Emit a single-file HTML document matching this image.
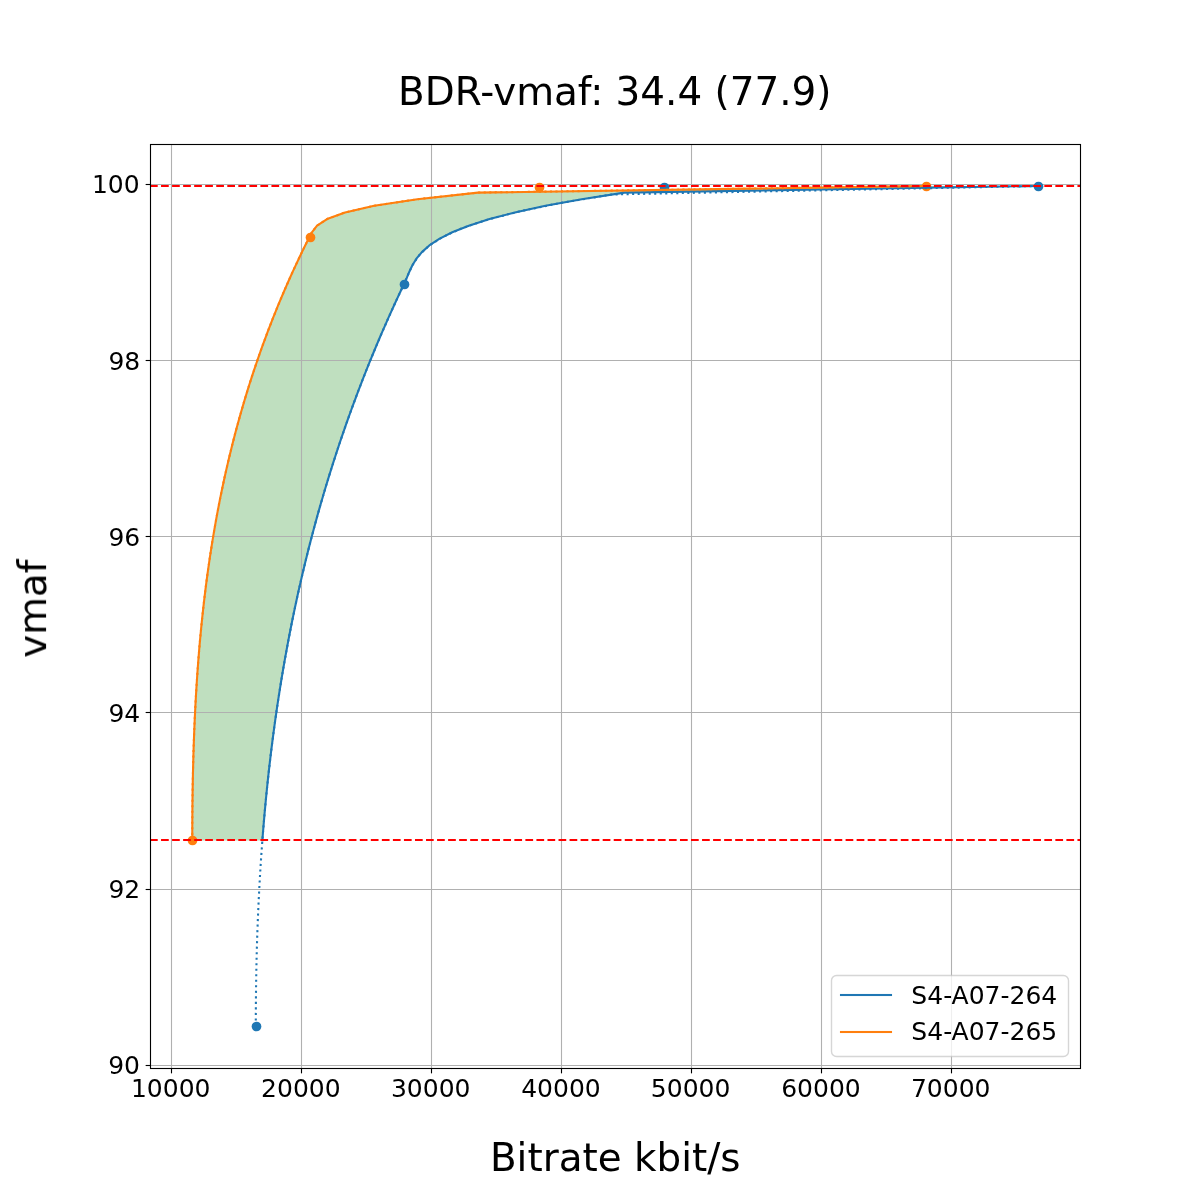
<!DOCTYPE html>
<html lang="en"><head><meta charset="utf-8"><title>BDR-vmaf: 34.4 (77.9)</title>
<style>html,body{margin:0;padding:0;background:#ffffff;}body{width:1200px;height:1200px;overflow:hidden;}svg text{white-space:pre;}</style></head>
<body>
<svg width="1200" height="1200" viewBox="0 0 1200 1200" style="display:block">
<defs><clipPath id="ax"><rect x="150" y="144" width="930" height="924"/></clipPath><filter id="g" filterUnits="userSpaceOnUse" x="0" y="0" width="1200" height="1200"><feOffset dx="0" dy="0"/></filter></defs>
<rect x="0" y="0" width="1200" height="1200" fill="#ffffff"/>
<g clip-path="url(#ax)"><polygon points="192.27,840.40 192.28,833.79 192.29,827.18 192.32,820.57 192.37,813.96 192.42,807.35 192.49,800.74 192.58,794.13 192.68,787.52 192.80,780.91 192.93,774.30 193.08,767.69 193.25,761.08 193.43,754.47 193.63,747.86 193.86,741.25 194.10,734.64 194.36,728.03 194.64,721.42 194.95,714.81 195.27,708.20 195.62,701.59 195.99,694.98 196.39,688.37 196.81,681.76 197.25,675.15 197.72,668.54 198.21,661.93 198.73,655.32 199.28,648.71 199.85,642.10 200.46,635.49 201.09,628.88 201.75,622.27 202.44,615.66 203.16,609.05 203.91,602.44 204.69,595.83 205.50,589.22 206.34,582.61 207.22,576.00 208.13,569.39 209.08,562.78 210.06,556.17 211.07,549.56 212.12,542.95 213.21,536.34 214.33,529.73 215.50,523.12 216.69,516.51 217.93,509.89 219.21,503.28 220.52,496.67 221.88,490.06 223.27,483.45 224.71,476.84 226.19,470.23 227.71,463.62 229.27,457.01 230.88,450.40 232.53,443.79 234.22,437.18 235.96,430.57 237.75,423.96 239.58,417.35 241.46,410.74 243.38,404.13 245.35,397.52 247.38,390.91 249.45,384.30 251.57,377.69 253.73,371.08 255.95,364.47 258.23,357.86 260.55,351.25 262.92,344.64 265.35,338.03 267.83,331.42 270.36,324.81 272.95,318.20 275.60,311.59 278.29,304.98 281.05,298.37 283.86,291.76 286.73,285.15 289.66,278.54 292.64,271.93 295.68,265.32 298.78,258.71 301.95,252.10 305.17,245.49 308.45,238.88 311.86,232.27 317.04,225.66 327.07,219.05 345.05,212.44 374.12,205.83 417.37,199.22 477.93,192.61 926.30,186.00 1037.73,186.00 624.31,192.61 581.74,199.22 545.45,205.83 514.89,212.44 489.53,219.05 468.83,225.66 452.26,232.27 439.27,238.88 429.32,245.49 421.89,252.10 416.42,258.71 412.39,265.32 409.24,271.93 406.46,278.54 403.49,285.15 400.37,291.76 397.28,298.37 394.24,304.98 391.24,311.59 388.28,318.20 385.36,324.81 382.48,331.42 379.63,338.03 376.83,344.64 374.07,351.25 371.35,357.86 368.67,364.47 366.02,371.08 363.42,377.69 360.85,384.30 358.32,390.91 355.83,397.52 353.38,404.13 350.96,410.74 348.58,417.35 346.24,423.96 343.94,430.57 341.67,437.18 339.43,443.79 337.24,450.40 335.08,457.01 332.95,463.62 330.86,470.23 328.80,476.84 326.78,483.45 324.80,490.06 322.84,496.67 320.92,503.28 319.04,509.89 317.19,516.51 315.37,523.12 313.58,529.73 311.83,536.34 310.11,542.95 308.42,549.56 306.77,556.17 305.14,562.78 303.55,569.39 301.99,576.00 300.46,582.61 298.96,589.22 297.49,595.83 296.05,602.44 294.65,609.05 293.27,615.66 291.92,622.27 290.60,628.88 289.31,635.49 288.04,642.10 286.81,648.71 285.61,655.32 284.43,661.93 283.28,668.54 282.16,675.15 281.06,681.76 280.00,688.37 278.96,694.98 277.94,701.59 276.96,708.20 275.99,714.81 275.06,721.42 274.15,728.03 273.27,734.64 272.41,741.25 271.57,747.86 270.76,754.47 269.98,761.08 269.22,767.69 268.48,774.30 267.77,780.91 267.08,787.52 266.41,794.13 265.77,800.74 265.15,807.35 264.55,813.96 263.97,820.57 263.42,827.18 262.88,833.79 262.37,840.40" fill="#008000" fill-opacity="0.25" stroke="none"/></g>
<g stroke="#b0b0b0" stroke-width="1.111" fill="none">
<line x1="171.5" y1="144" x2="171.5" y2="1068"/>
<line x1="301.5" y1="144" x2="301.5" y2="1068"/>
<line x1="431.5" y1="144" x2="431.5" y2="1068"/>
<line x1="561.5" y1="144" x2="561.5" y2="1068"/>
<line x1="691.5" y1="144" x2="691.5" y2="1068"/>
<line x1="821.5" y1="144" x2="821.5" y2="1068"/>
<line x1="951.5" y1="144" x2="951.5" y2="1068"/>
<line x1="150" y1="1065.5" x2="1080" y2="1065.5"/>
<line x1="150" y1="889.5" x2="1080" y2="889.5"/>
<line x1="150" y1="712.5" x2="1080" y2="712.5"/>
<line x1="150" y1="536.5" x2="1080" y2="536.5"/>
<line x1="150" y1="360.5" x2="1080" y2="360.5"/>
<line x1="150" y1="184.5" x2="1080" y2="184.5"/>
</g>
<g stroke="#000000" stroke-width="1.111" fill="none">
<line x1="171.5" y1="1068.5" x2="171.5" y2="1073.36"/>
<line x1="301.5" y1="1068.5" x2="301.5" y2="1073.36"/>
<line x1="431.5" y1="1068.5" x2="431.5" y2="1073.36"/>
<line x1="561.5" y1="1068.5" x2="561.5" y2="1073.36"/>
<line x1="691.5" y1="1068.5" x2="691.5" y2="1073.36"/>
<line x1="821.5" y1="1068.5" x2="821.5" y2="1073.36"/>
<line x1="951.5" y1="1068.5" x2="951.5" y2="1073.36"/>
<line x1="150.5" y1="1065.5" x2="145.64" y2="1065.5"/>
<line x1="150.5" y1="889.5" x2="145.64" y2="889.5"/>
<line x1="150.5" y1="712.5" x2="145.64" y2="712.5"/>
<line x1="150.5" y1="536.5" x2="145.64" y2="536.5"/>
<line x1="150.5" y1="360.5" x2="145.64" y2="360.5"/>
<line x1="150.5" y1="184.5" x2="145.64" y2="184.5"/>
</g>
<g filter="url(#g)" font-family="'DejaVu Sans','Liberation Sans',sans-serif" font-size="25px" fill="#000000">
<text x="170.72" y="1097.00" text-anchor="middle">10000</text>
<text x="300.85" y="1097.00" text-anchor="middle">20000</text>
<text x="430.73" y="1097.00" text-anchor="middle">30000</text>
<text x="560.98" y="1097.00" text-anchor="middle">40000</text>
<text x="690.60" y="1097.00" text-anchor="middle">50000</text>
<text x="820.98" y="1097.00" text-anchor="middle">60000</text>
<text x="950.73" y="1097.00" text-anchor="middle">70000</text>
<text x="140.03" y="1074.00" text-anchor="end">90</text>
<text x="140.28" y="898.00" text-anchor="end">92</text>
<text x="140.28" y="722.00" text-anchor="end">94</text>
<text x="140.28" y="546.00" text-anchor="end">96</text>
<text x="140.28" y="370.00" text-anchor="end">98</text>
<text x="139.66" y="193.00" text-anchor="end">100</text>
</g>
<g clip-path="url(#ax)" fill="none" stroke-width="2.083" stroke-linejoin="round">
<circle cx="256.5" cy="1026.5" r="4.861" fill="#1f77b4"/><circle cx="404.5" cy="284.5" r="4.861" fill="#1f77b4"/><circle cx="664.5" cy="187.5" r="4.861" fill="#1f77b4"/><circle cx="1038.5" cy="186.5" r="4.861" fill="#1f77b4"/>
<circle cx="192.5" cy="840.5" r="4.861" fill="#ff7f0e"/><circle cx="310.5" cy="237.5" r="4.861" fill="#ff7f0e"/><circle cx="539.5" cy="187.5" r="4.861" fill="#ff7f0e"/><circle cx="926.5" cy="186.5" r="4.861" fill="#ff7f0e"/>
<polyline points="255.80,1026.00 255.81,1017.52 255.85,1009.03 255.91,1000.55 256.00,992.06 256.11,983.58 256.25,975.09 256.41,966.61 256.60,958.12 256.82,949.64 257.07,941.15 257.35,932.67 257.66,924.18 257.99,915.70 258.36,907.21 258.76,898.73 259.19,890.24 259.65,881.76 260.14,873.27 260.67,864.79 261.23,856.30 261.83,847.82 262.45,839.33 263.12,830.85 263.82,822.36 264.55,813.88 265.33,805.39 266.14,796.91 266.98,788.42 267.87,779.94 268.79,771.45 269.76,762.97 270.76,754.48 271.80,746.00 272.89,737.52 274.01,729.03 275.18,720.55 276.39,712.06 277.64,703.58 278.94,695.09 280.28,686.61 281.66,678.12 283.09,669.64 284.57,661.15 286.09,652.67 287.65,644.18 289.27,635.70 290.93,627.21 292.64,618.73 294.39,610.24 296.20,601.76 298.06,593.27 299.96,584.79 301.92,576.30 303.93,567.82 305.99,559.33 308.10,550.85 310.26,542.36 312.48,533.88 314.75,525.39 317.08,516.91 319.46,508.42 321.89,499.94 324.38,491.45 326.93,482.97 329.53,474.48 332.19,466.00 334.91,457.52 337.69,449.03 340.53,440.55 343.42,432.06 346.38,423.58 349.39,415.09 352.47,406.61 355.61,398.12 358.81,389.64 362.07,381.15 365.40,372.67 368.79,364.18 372.24,355.70 375.76,347.21 379.34,338.73 382.99,330.24 386.70,321.76 390.48,313.27 394.33,304.79 398.24,296.30 402.23,287.82 406.12,279.33 409.72,270.85 414.05,262.36 420.25,253.88 429.45,245.39 442.80,236.91 461.43,228.42 486.49,219.94 519.10,211.45 560.42,202.97 611.57,194.48 1037.73,186.00" stroke="#1f77b4" stroke-dasharray="2.083 3.437"/>
<polyline points="262.37,840.40 262.88,833.79 263.42,827.18 263.97,820.57 264.55,813.96 265.15,807.35 265.77,800.74 266.41,794.13 267.08,787.52 267.77,780.91 268.48,774.30 269.22,767.69 269.98,761.08 270.76,754.47 271.57,747.86 272.41,741.25 273.27,734.64 274.15,728.03 275.06,721.42 275.99,714.81 276.96,708.20 277.94,701.59 278.96,694.98 280.00,688.37 281.06,681.76 282.16,675.15 283.28,668.54 284.43,661.93 285.61,655.32 286.81,648.71 288.04,642.10 289.31,635.49 290.60,628.88 291.92,622.27 293.27,615.66 294.65,609.05 296.05,602.44 297.49,595.83 298.96,589.22 300.46,582.61 301.99,576.00 303.55,569.39 305.14,562.78 306.77,556.17 308.42,549.56 310.11,542.95 311.83,536.34 313.58,529.73 315.37,523.12 317.19,516.51 319.04,509.89 320.92,503.28 322.84,496.67 324.80,490.06 326.78,483.45 328.80,476.84 330.86,470.23 332.95,463.62 335.08,457.01 337.24,450.40 339.43,443.79 341.67,437.18 343.94,430.57 346.24,423.96 348.58,417.35 350.96,410.74 353.38,404.13 355.83,397.52 358.32,390.91 360.85,384.30 363.42,377.69 366.02,371.08 368.67,364.47 371.35,357.86 374.07,351.25 376.83,344.64 379.63,338.03 382.48,331.42 385.36,324.81 388.28,318.20 391.24,311.59 394.24,304.98 397.28,298.37 400.37,291.76 403.49,285.15 406.46,278.54 409.24,271.93 412.39,265.32 416.42,258.71 421.89,252.10 429.32,245.49 439.27,238.88 452.26,232.27 468.83,225.66 489.53,219.05 514.89,212.44 545.45,205.83 581.74,199.22 624.31,192.61 1037.73,186.00" stroke="#1f77b4" stroke-linecap="square"/>
<polyline points="192.27,840.40 192.28,833.79 192.29,827.18 192.32,820.57 192.37,813.96 192.42,807.35 192.49,800.74 192.58,794.13 192.68,787.52 192.80,780.91 192.93,774.30 193.08,767.69 193.25,761.08 193.43,754.47 193.63,747.86 193.86,741.25 194.10,734.64 194.36,728.03 194.64,721.42 194.95,714.81 195.27,708.20 195.62,701.59 195.99,694.98 196.39,688.37 196.81,681.76 197.25,675.15 197.72,668.54 198.21,661.93 198.73,655.32 199.28,648.71 199.85,642.10 200.46,635.49 201.09,628.88 201.75,622.27 202.44,615.66 203.16,609.05 203.91,602.44 204.69,595.83 205.50,589.22 206.34,582.61 207.22,576.00 208.13,569.39 209.08,562.78 210.06,556.17 211.07,549.56 212.12,542.95 213.21,536.34 214.33,529.73 215.50,523.12 216.69,516.51 217.93,509.89 219.21,503.28 220.52,496.67 221.88,490.06 223.27,483.45 224.71,476.84 226.19,470.23 227.71,463.62 229.27,457.01 230.88,450.40 232.53,443.79 234.22,437.18 235.96,430.57 237.75,423.96 239.58,417.35 241.46,410.74 243.38,404.13 245.35,397.52 247.38,390.91 249.45,384.30 251.57,377.69 253.73,371.08 255.95,364.47 258.23,357.86 260.55,351.25 262.92,344.64 265.35,338.03 267.83,331.42 270.36,324.81 272.95,318.20 275.60,311.59 278.29,304.98 281.05,298.37 283.86,291.76 286.73,285.15 289.66,278.54 292.64,271.93 295.68,265.32 298.78,258.71 301.95,252.10 305.17,245.49 308.45,238.88 311.86,232.27 317.04,225.66 327.07,219.05 345.05,212.44 374.12,205.83 417.37,199.22 477.93,192.61 926.30,186.00" stroke="#ff7f0e" stroke-dasharray="2.083 3.437"/>
<polyline points="192.27,840.40 192.28,833.79 192.29,827.18 192.32,820.57 192.37,813.96 192.42,807.35 192.49,800.74 192.58,794.13 192.68,787.52 192.80,780.91 192.93,774.30 193.08,767.69 193.25,761.08 193.43,754.47 193.63,747.86 193.86,741.25 194.10,734.64 194.36,728.03 194.64,721.42 194.95,714.81 195.27,708.20 195.62,701.59 195.99,694.98 196.39,688.37 196.81,681.76 197.25,675.15 197.72,668.54 198.21,661.93 198.73,655.32 199.28,648.71 199.85,642.10 200.46,635.49 201.09,628.88 201.75,622.27 202.44,615.66 203.16,609.05 203.91,602.44 204.69,595.83 205.50,589.22 206.34,582.61 207.22,576.00 208.13,569.39 209.08,562.78 210.06,556.17 211.07,549.56 212.12,542.95 213.21,536.34 214.33,529.73 215.50,523.12 216.69,516.51 217.93,509.89 219.21,503.28 220.52,496.67 221.88,490.06 223.27,483.45 224.71,476.84 226.19,470.23 227.71,463.62 229.27,457.01 230.88,450.40 232.53,443.79 234.22,437.18 235.96,430.57 237.75,423.96 239.58,417.35 241.46,410.74 243.38,404.13 245.35,397.52 247.38,390.91 249.45,384.30 251.57,377.69 253.73,371.08 255.95,364.47 258.23,357.86 260.55,351.25 262.92,344.64 265.35,338.03 267.83,331.42 270.36,324.81 272.95,318.20 275.60,311.59 278.29,304.98 281.05,298.37 283.86,291.76 286.73,285.15 289.66,278.54 292.64,271.93 295.68,265.32 298.78,258.71 301.95,252.10 305.17,245.49 308.45,238.88 311.86,232.27 317.04,225.66 327.07,219.05 345.05,212.44 374.12,205.83 417.37,199.22 477.93,192.61 926.30,186.00" stroke="#ff7f0e" stroke-linecap="square"/>
<line x1="150" y1="840.0" x2="1080" y2="840.0" stroke="#ff0000" stroke-dasharray="7.708 3.333"/>
<line x1="150" y1="186.0" x2="1080" y2="186.0" stroke="#ff0000" stroke-dasharray="7.708 3.333"/>
</g>
<rect x="150.5" y="144.5" width="930" height="924" fill="none" stroke="#000000" stroke-width="1.111" stroke-linejoin="miter"/>
<g filter="url(#g)" font-family="'DejaVu Sans','Liberation Sans',sans-serif" font-size="38.889px" fill="#000000" text-anchor="middle">
<text x="614.75" y="105.00">BDR-vmaf: 34.4 (77.9)</text>
<text x="615.25" y="1171.00">Bitrate kbit/s</text>
<text x="45.83" y="608.75" transform="rotate(-90 45.83 608.75)">vmaf</text>
</g>
<g opacity="0.8"><rect x="831.50" y="975.50" width="237.00" height="81.00" rx="5.00" ry="5.00" fill="#ffffff" stroke="#cccccc" stroke-width="1.389"/></g>
<rect x="839.96" y="993.96" width="52.08" height="2.08" fill="#1f77b4"/>
<rect x="839.96" y="1030.96" width="52.08" height="2.08" fill="#ff7f0e"/>
<g filter="url(#g)" font-family="'DejaVu Sans','Liberation Sans',sans-serif" font-size="25px" fill="#000000">
<text x="911.36" y="1004.00">S4-A07-264</text>
<text x="911.36" y="1040.00">S4-A07-265</text>
</g>
</svg>
</body></html>
